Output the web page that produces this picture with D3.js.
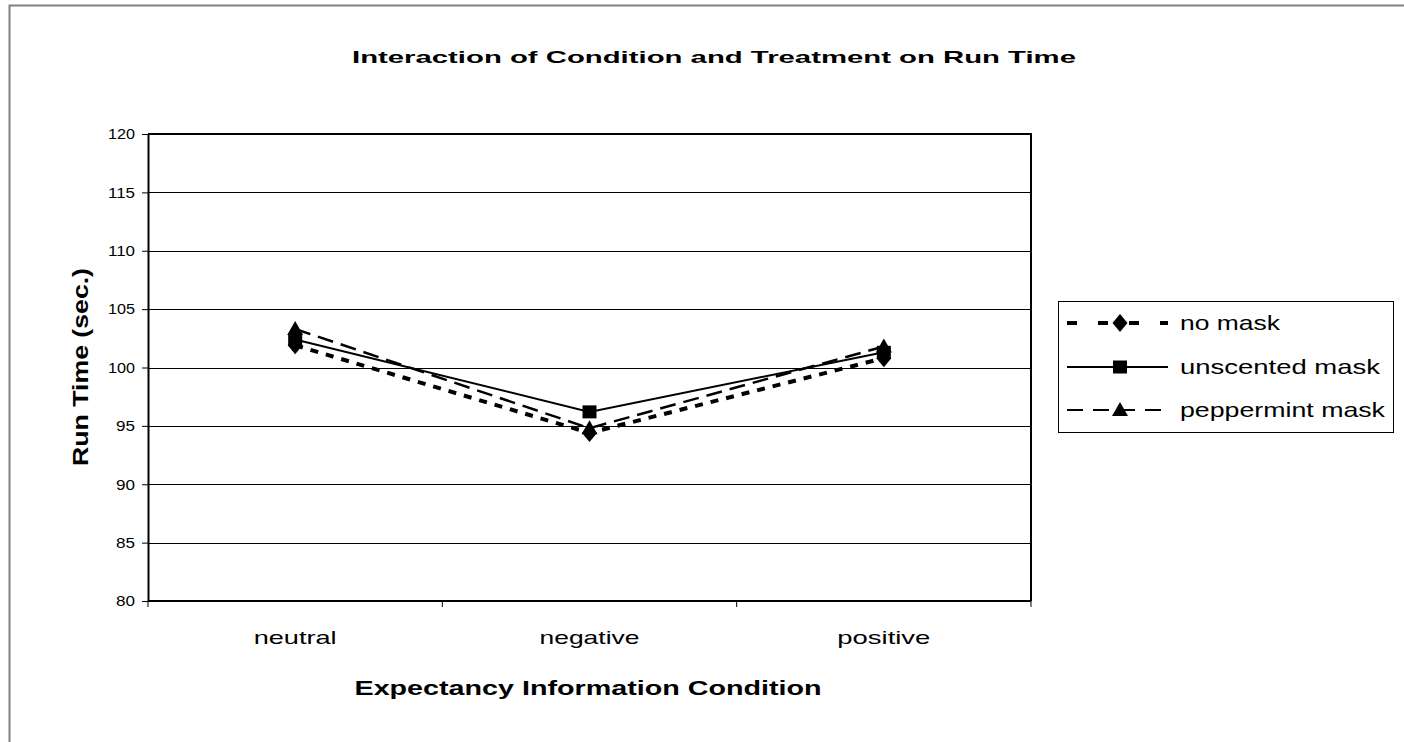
<!DOCTYPE html>
<html>
<head>
<meta charset="utf-8">
<script src="https://cdn.jsdelivr.net/npm/d3@7/dist/d3.min.js"></script>
<style>
  html, body { margin: 0; padding: 0; background: #fff; }
  svg { display: block; font-family: Arial, "Liberation Sans", sans-serif; }
</style>
</head>
<body>
<svg id="chart" width="1404" height="742"></svg>
<script>
// Conditions on the x axis
const categories = ["neutral", "negative", "positive"];
// Treatment groups
const seriesNames = ["no mask", "unscented mask", "peppermint mask"];
// Mean run time (sec.) per condition, one array per treatment
const noMask = [101.9, 94.4, 100.8];
const unscentedMask = [102.4, 96.2, 101.3];
const peppermintMask = [103.3, 94.8, 101.8];
// Y axis ticks
const yTicks = [80, 85, 90, 95, 100, 105, 110, 115, 120];

const series = [
  { name: seriesNames[0], values: noMask, marker: "diamond", dash: "8,8", width: 4 },
  { name: seriesNames[1], values: unscentedMask, marker: "square", dash: null, width: 2 },
  { name: seriesNames[2], values: peppermintMask, marker: "triangle", dash: "16,8", width: 2.5 }
];

const svg = d3.select("#chart");
const plot = { left: 148, right: 1031, top: 134, bottom: 601 };

// Outer chart frame
svg.append("rect")
  .attr("x", 9.5).attr("y", 5.5)
  .attr("width", 1400).attr("height", 745)
  .attr("fill", "none").attr("stroke", "#808080").attr("stroke-width", 2);

const x = d3.scaleBand().domain(categories).range([plot.left, plot.right]).padding(0);
const y = d3.scaleLinear().domain([80, 120]).range([plot.bottom, plot.top]);
const cx = c => x(c) + x.bandwidth() / 2;

// Horizontal gridlines
svg.append("g").selectAll("line").data(yTicks).join("line")
  .attr("x1", plot.left).attr("x2", plot.right)
  .attr("y1", d => Math.round(y(d)) + 0.5).attr("y2", d => Math.round(y(d)) + 0.5)
  .attr("stroke", "#000").attr("stroke-width", 1);

// Plot border (top and right)
svg.append("path")
  .attr("d", `M${plot.left},${plot.top}H${plot.right}V${plot.bottom}`)
  .attr("fill", "none").attr("stroke", "#000").attr("stroke-width", 2);

// Y axis
const yAxis = d3.axisLeft(y).tickValues(yTicks).tickSize(6).tickSizeOuter(0).tickPadding(7);
const gy = svg.append("g").attr("transform", `translate(${plot.left},0)`).call(yAxis);
gy.select(".domain").attr("stroke", "#000").attr("stroke-width", 2);
gy.selectAll(".tick line").attr("stroke", "#000");
gy.selectAll(".tick text")
  .attr("font-size", 15).attr("font-family", "Arial, 'Liberation Sans', sans-serif")
  .attr("textLength", 27).attr("lengthAdjust", "spacingAndGlyphs")
  .attr("fill", "#000");
gy.selectAll(".tick text").filter(d => d < 100).attr("textLength", 19);

// X axis with ticks at category boundaries
const gx = svg.append("g").attr("transform", `translate(0,${plot.bottom})`);
gx.append("line")
  .attr("x1", plot.left).attr("x2", plot.right)
  .attr("stroke", "#000").attr("stroke-width", 2);
const boundaries = categories.map(c => x(c)).concat([x(categories[categories.length - 1]) + x.bandwidth()]);
gx.selectAll("line.bt").data(boundaries).join("line")
  .attr("class", "bt")
  .attr("x1", d => d).attr("x2", d => d)
  .attr("y1", 0).attr("y2", 6)
  .attr("stroke", "#000").attr("stroke-width", 1);
const catWidths = { neutral: 83, negative: 100, positive: 93 };
gx.selectAll("text").data(categories).join("text")
  .attr("x", d => cx(d)).attr("y", 43)
  .attr("text-anchor", "middle")
  .attr("font-size", 19)
  .attr("textLength", d => catWidths[d]).attr("lengthAdjust", "spacingAndGlyphs")
  .text(d => d);

// Titles
svg.append("text")
  .attr("x", 714).attr("y", 63)
  .attr("text-anchor", "middle").attr("font-weight", "bold").attr("font-size", 17)
  .attr("textLength", 724).attr("lengthAdjust", "spacingAndGlyphs")
  .text("Interaction of Condition and Treatment on Run Time");

svg.append("text")
  .attr("x", 588).attr("y", 695)
  .attr("text-anchor", "middle").attr("font-weight", "bold").attr("font-size", 20)
  .attr("textLength", 467).attr("lengthAdjust", "spacingAndGlyphs")
  .text("Expectancy Information Condition");

svg.append("text")
  .attr("transform", "translate(88,367) rotate(-90)")
  .attr("text-anchor", "middle").attr("font-weight", "bold").attr("font-size", 22)
  .attr("textLength", 198).attr("lengthAdjust", "spacingAndGlyphs")
  .text("Run Time (sec.)");

// Marker shapes
function markerPath(type) {
  if (type === "diamond") return "M0,-9L7.5,0L0,9L-7.5,0Z";
  if (type === "square") return "M-7,-6.5H7V6.5H-7Z";
  return "M0,-8L8,6H-8Z";
}

// Series lines and markers
const line = d3.line().x((d, i) => cx(categories[i])).y(d => y(d));
series.forEach(s => {
  svg.append("path")
    .datum(s.values)
    .attr("d", line)
    .attr("fill", "none").attr("stroke", "#000")
    .attr("stroke-width", s.width)
    .attr("stroke-dasharray", s.dash);
});
series.forEach(s => {
  svg.append("g").selectAll("path").data(s.values).join("path")
    .attr("transform", (d, i) => `translate(${cx(categories[i])},${y(d)})`)
    .attr("d", markerPath(s.marker))
    .attr("fill", "#000");
});

// Legend
const legend = svg.append("g");
legend.append("rect")
  .attr("x", 1058.5).attr("y", 301.5).attr("width", 335).attr("height", 131)
  .attr("fill", "#fff").attr("stroke", "#000").attr("stroke-width", 1);
const legendRows = [323, 367, 410];
const legendTextWidths = [100, 200, 205];
const legendDash = ["10,21", null, "16,10"];
series.forEach((s, i) => {
  const ly = legendRows[i];
  legend.append("line")
    .attr("x1", 1067).attr("x2", 1168).attr("y1", ly).attr("y2", ly)
    .attr("stroke", "#000").attr("stroke-width", i === 0 ? 4 : 2)
    .attr("stroke-dasharray", legendDash[i]);
  legend.append("path")
    .attr("transform", `translate(1120,${ly})`)
    .attr("d", markerPath(s.marker)).attr("fill", "#000");
  legend.append("text")
    .attr("x", 1180).attr("y", ly + 7)
    .attr("font-size", 21)
    .attr("textLength", legendTextWidths[i]).attr("lengthAdjust", "spacingAndGlyphs")
    .text(s.name);
});
</script>
</body>
</html>
